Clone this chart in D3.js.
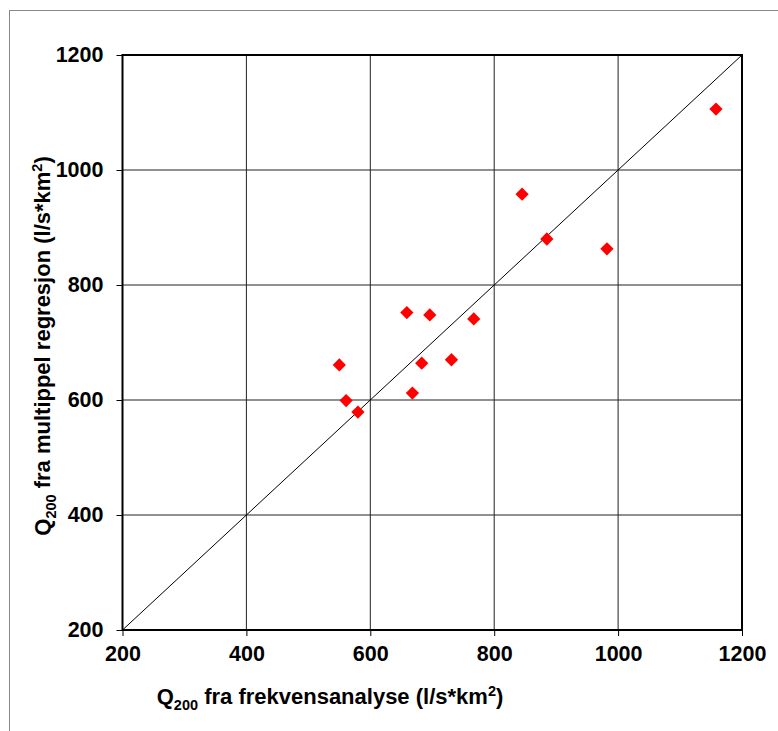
<!DOCTYPE html>
<html>
<head>
<meta charset="utf-8">
<script src="https://cdn.jsdelivr.net/npm/d3@7"></script>
<style>
  body { margin: 0; background: #fff; }
  text { font-family: "Liberation Sans", Arial, sans-serif; font-weight: bold; fill: #000; }
</style>
</head>
<body>
<div id="chart"></div>
<script>
// Q200 frekvensanalyse (x) vs multippel regresjon (y)
var xVals = [1158, 845, 885, 982, 659, 696, 767, 550, 683, 731, 668, 561, 580];
var yVals = [1106, 958, 880, 863, 752, 748, 741, 661, 664, 670, 612, 599, 579];
var xTicks = [200, 400, 600, 800, 1000, 1200];
var yTicks = [200, 400, 600, 800, 1000, 1200];

var data = xVals.map(function(d, i) { return {x: d, y: yVals[i]}; });

var W = 778, H = 731;
var pLeft = 122.5, pRight = 742, pTop = 55, pBottom = 630;

var svg = d3.select("#chart").append("svg")
    .attr("width", W)
    .attr("height", H);

// outer frame
svg.append("rect")
    .attr("x", 9.5).attr("y", 10.5)
    .attr("width", 900).attr("height", 900)
    .attr("fill", "none")
    .attr("stroke", "#888")
    .attr("stroke-width", 1);

var x = d3.scaleLinear().domain([200, 1200]).range([pLeft, pRight]);
var y = d3.scaleLinear().domain([200, 1200]).range([pBottom, pTop]);

// gridlines
svg.append("g").selectAll("line").data(xTicks).enter()
    .append("line")
    .attr("x1", function(d) { return x(d); })
    .attr("x2", function(d) { return x(d); })
    .attr("y1", pTop).attr("y2", pBottom)
    .attr("stroke", "#222")
    .attr("stroke-width", 1);

svg.append("g").selectAll("line").data(yTicks).enter()
    .append("line")
    .attr("y1", function(d) { return y(d); })
    .attr("y2", function(d) { return y(d); })
    .attr("x1", pLeft).attr("x2", pRight)
    .attr("stroke", "#222")
    .attr("stroke-width", 1);

// 1:1 line
svg.append("line")
    .attr("x1", x(200)).attr("y1", y(200))
    .attr("x2", x(1200)).attr("y2", y(1200))
    .attr("stroke", "#000")
    .attr("stroke-width", 1);

// plot border
svg.append("rect")
    .attr("x", pLeft).attr("y", pTop)
    .attr("width", pRight - pLeft).attr("height", pBottom - pTop)
    .attr("fill", "none")
    .attr("stroke", "#000")
    .attr("stroke-width", 2);

// axes
var fmt = d3.format("d");
var xAxis = d3.axisBottom(x).tickValues(xTicks).tickFormat(fmt).tickSize(6).tickSizeOuter(0).tickPadding(10);
var yAxis = d3.axisLeft(y).tickValues(yTicks).tickFormat(fmt).tickSize(6).tickSizeOuter(0).tickPadding(13);

var gx = svg.append("g")
    .attr("transform", "translate(0," + pBottom + ")")
    .call(xAxis);
var gy = svg.append("g")
    .attr("transform", "translate(" + pLeft + ",0)")
    .call(yAxis);

[gx, gy].forEach(function(g) {
  g.select(".domain").remove();
  g.selectAll("line").attr("stroke", "#000");
  g.selectAll("text")
    .style("font-size", "21.5px")
    .style("font-family", "'Liberation Sans', Arial, sans-serif")
    .style("font-weight", "bold")
    .attr("fill", "#000");
});

// points (diamonds)
svg.append("g").selectAll("path").data(data).enter()
    .append("path")
    .attr("d", d3.symbol().type(d3.symbolSquare).size(88))
    .attr("transform", function(d) { return "translate(" + x(d.x) + "," + y(d.y) + ") rotate(45)"; })
    .attr("fill", "#ff0000");

// axis titles
var xt = svg.append("text")
    .attr("x", 330).attr("y", 704)
    .attr("text-anchor", "middle")
    .style("font-size", "22px");
xt.append("tspan").text("Q");
xt.append("tspan").text("200").attr("dy", 6).style("font-size", "14.5px");
xt.append("tspan").text(" fra frekvensanalyse (l/s*km").attr("dy", -6);
xt.append("tspan").text("2").attr("dy", -8).style("font-size", "14.5px");
xt.append("tspan").text(")").attr("dy", 8);

var yt = svg.append("text")
    .attr("transform", "translate(50,346) rotate(-90)")
    .attr("text-anchor", "middle")
    .style("font-size", "22px");
yt.append("tspan").text("Q");
yt.append("tspan").text("200").attr("dy", 6).style("font-size", "14.5px");
yt.append("tspan").text(" fra multippel regresjon (l/s*km").attr("dy", -6);
yt.append("tspan").text("2").attr("dy", -8).style("font-size", "14.5px");
yt.append("tspan").text(")").attr("dy", 8);
</script>
</body>
</html>
